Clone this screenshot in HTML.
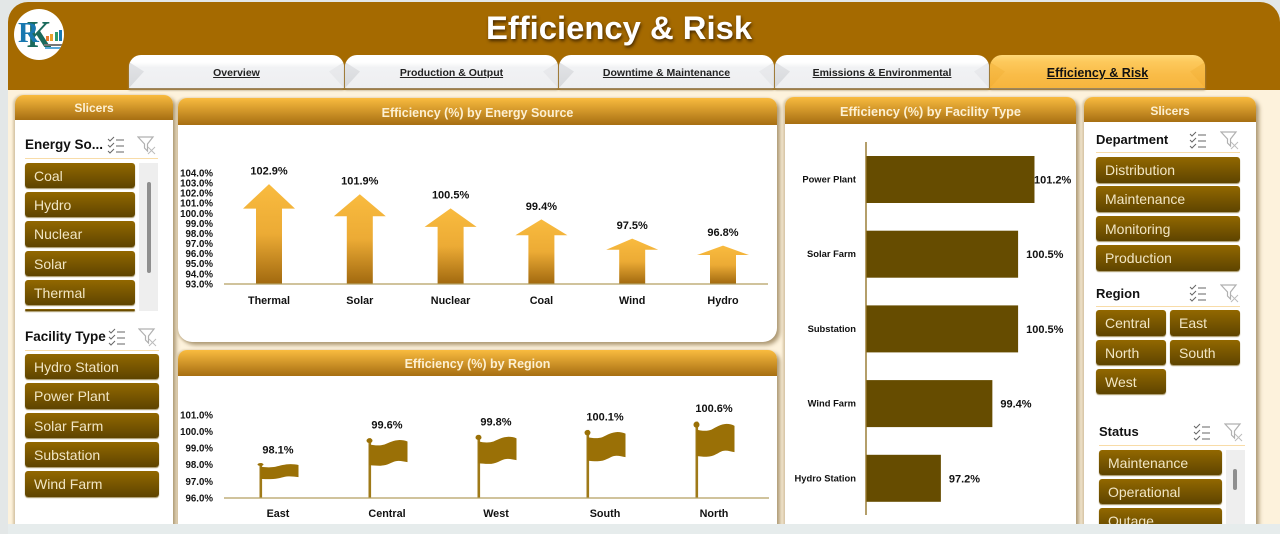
<!DOCTYPE html>
<html lang="en">
<head>
<meta charset="utf-8">
<title>Efficiency &amp; Risk</title>
<style>
html,body{margin:0;padding:0;background:#e3e7e7;}
#root{position:relative;width:1280px;height:534px;overflow:hidden;background:#e3e7e7;font-family:"Liberation Sans",sans-serif;}
#root div,#root span.abs{position:absolute;box-sizing:border-box;}
.panel{background:#fff;box-shadow:3px 3px 4px #ac9873,-2px 0 2px #d8c8a8;}
.phead{left:0;top:0;width:100%;background:linear-gradient(#f9bb3f,#a66e12);color:#fdf0d2;font-weight:bold;text-align:center;}
.tab{top:55px;height:33px;border-radius:12px 12px 0 0;background:linear-gradient(#fff 0,#fff 22%,#f1f2f4 38%,#eeeff1 100%);box-shadow:0 2px 2px #9c8a68;text-align:center;font-weight:bold;font-size:10.5px;line-height:37px;color:#222;overflow:hidden;}
.tab u{position:relative;}
.bl,.br{top:0;width:15px;height:33px;}
.bl{left:0;clip-path:polygon(0 7px,100% 50%,0 100%);background:linear-gradient(#e6e7ea,#d6d8db);}
.br{right:0;clip-path:polygon(100% 7px,0 50%,100% 100%);background:linear-gradient(#ebecee,#e5e6e9);}
.tab.on{background:linear-gradient(#ffd877 0,#fdc95c 20%,#f9bc48 60%,#f7b53d 100%);font-size:12.5px;color:#111;}
.tab.on .bl,.tab.on .br{background:linear-gradient(#f9c250,#f3af36);}
.btn{background:linear-gradient(#926800,#5e4400);border-radius:3px;color:#f2e6c4;font-size:14px;padding-left:9px;box-shadow:0 1px 1px #a39160;white-space:nowrap;overflow:hidden;}
.stitle{font-weight:bold;font-size:13.5px;color:#111;white-space:nowrap;}
.sline{height:1px;background:#f8dca8;}
.track{background:#eeeeee;}
.thumb{background:#8f8f8f;border-radius:2px;}
.ic{width:20px;height:20px;}
svg.chart{position:absolute;left:0;top:0;pointer-events:none;}
svg text{font-family:"Liberation Sans",sans-serif;}
</style>
</head>
<body>
<div id="root">
<svg width="0" height="0" style="position:absolute">
  <defs>
    <symbol id="sym-multi" viewBox="0 0 20 20">
      <path d="M2 4l2 2 4-4M2 10l2 2 4-4M2 16l2 2 4-4" fill="none" stroke="#666" stroke-width="1"/>
      <path d="M10 5h8M10 11h8M10 17h8" stroke="#666" stroke-width="1.1"/>
    </symbol>
    <symbol id="sym-filter" viewBox="0 0 20 20">
      <path d="M1 2h15l-5.5 7v7l-3-3V9z" fill="none" stroke="#b0b0b0" stroke-width="1.2"/>
      <path d="M11 12l7 7M18 12l-7 7" stroke="#bcbcbc" stroke-width="1"/>
    </symbol>
  </defs>
</svg>

<div style="left:8px;top:60px;width:1272px;height:474px;background:#fdf2dc;"></div>
<div style="left:8px;top:2px;width:1272px;height:88px;background:#a56a00;border-radius:20px 20px 0 0;"></div>
<div style="left:319px;top:7px;width:600px;text-align:center;font-size:32.8px;line-height:42px;font-weight:bold;color:#fff;text-shadow:1px 2px 3px rgba(50,28,0,.85);">Efficiency &amp; Risk</div>

<div style="left:14px;top:9px;width:50px;height:51px;border-radius:50%;background:#fff;overflow:hidden;">
  <span class="abs" style="left:13px;top:7px;font:bold 38px/38px 'Liberation Serif',serif;color:#1a6a5c;transform:scaleX(.82);transform-origin:left top;">K</span>
  <span class="abs" style="left:4px;top:10px;font:bold 29px/29px 'Liberation Serif',serif;color:#1878b0;">R</span>
  <span class="abs" style="left:32px;top:27px;width:3px;height:5px;background:#e9782d;"></span>
  <span class="abs" style="left:36px;top:25px;width:3px;height:7px;background:#e9a02d;"></span>
  <span class="abs" style="left:41px;top:23px;width:3px;height:9px;background:#2d9a6a;"></span>
  <span class="abs" style="left:45px;top:21px;width:3px;height:11px;background:#1878b0;"></span>
  <span class="abs" style="left:30px;top:35px;width:18px;height:2px;background:#777;"></span>
  <span class="abs" style="left:31px;top:38px;width:16px;height:2px;background:#58a8d8;"></span>
</div>

<div class="tab" style="left:129px;width:215px;"><div class="bl"></div><div class="br"></div><u>Overview</u></div>
<div class="tab" style="left:345px;width:213px;"><div class="bl"></div><div class="br"></div><u>Production &amp; Output</u></div>
<div class="tab" style="left:559px;width:215px;"><div class="bl"></div><div class="br"></div><u>Downtime &amp; Maintenance</u></div>
<div class="tab" style="left:775px;width:214px;"><div class="bl"></div><div class="br"></div><u>Emissions &amp; Environmental</u></div>
<div class="tab on" style="left:990px;width:215px;"><div class="bl"></div><div class="br"></div><u>Efficiency &amp; Risk</u></div>

<!-- Left slicers -->
<div class="panel" style="left:15px;top:95px;width:158px;height:440px;border-radius:9px 9px 0 0;">
  <div class="phead" style="height:25px;line-height:26px;font-size:12px;border-radius:9px 9px 0 0;">Slicers</div>
</div>
<div class="stitle" style="left:25px;top:137px;">Energy So...</div>
<svg class="ic" style="position:absolute;left:106px;top:135px"><use href="#sym-multi"/></svg>
<svg class="ic" style="position:absolute;left:137px;top:135px"><use href="#sym-filter"/></svg>
<div class="sline" style="left:25px;top:158px;width:133px;"></div>
<div class="btn" style="left:25px;top:163px;width:110px;height:25px;line-height:26px;">Coal</div>
<div class="btn" style="left:25px;top:192px;width:110px;height:25px;line-height:26px;">Hydro</div>
<div class="btn" style="left:25px;top:221px;width:110px;height:26px;line-height:27px;">Nuclear</div>
<div class="btn" style="left:25px;top:251px;width:110px;height:25px;line-height:26px;">Solar</div>
<div class="btn" style="left:25px;top:280px;width:110px;height:25px;line-height:26px;">Thermal</div>
<div class="btn" style="left:25px;top:309px;width:110px;height:2px;"></div>
<div class="track" style="left:139px;top:163px;width:19px;height:148px;"></div>
<div class="thumb" style="left:147px;top:182px;width:4px;height:91px;"></div>

<div class="stitle" style="left:25px;top:329px;">Facility Type</div>
<svg class="ic" style="position:absolute;left:107px;top:327px"><use href="#sym-multi"/></svg>
<svg class="ic" style="position:absolute;left:138px;top:327px"><use href="#sym-filter"/></svg>
<div class="sline" style="left:25px;top:350px;width:134px;"></div>
<div class="btn" style="left:25px;top:354px;width:134px;height:25px;line-height:26px;">Hydro Station</div>
<div class="btn" style="left:25px;top:383px;width:134px;height:26px;line-height:27px;">Power Plant</div>
<div class="btn" style="left:25px;top:413px;width:134px;height:25px;line-height:26px;">Solar Farm</div>
<div class="btn" style="left:25px;top:442px;width:134px;height:25px;line-height:26px;">Substation</div>
<div class="btn" style="left:25px;top:471px;width:134px;height:26px;line-height:27px;">Wind Farm</div>

<!-- Chart panels -->
<div class="panel" style="left:178px;top:98px;width:599px;height:244px;border-radius:9px 9px 14px 14px;">
  <div class="phead" style="height:27px;line-height:30px;font-size:12.5px;border-radius:9px 9px 0 0;">Efficiency (%) by Energy Source</div>
</div>
<div class="panel" style="left:178px;top:350px;width:599px;height:190px;border-radius:9px 9px 0 0;">
  <div class="phead" style="height:26px;line-height:29px;font-size:12.5px;border-radius:9px 9px 0 0;">Efficiency (%) by Region</div>
</div>
<div class="panel" style="left:785px;top:97px;width:291px;height:440px;border-radius:9px 9px 0 0;">
  <div class="phead" style="height:27px;line-height:31px;font-size:12.7px;border-radius:9px 9px 0 0;">Efficiency (%) by Facility Type</div>
</div>

<!-- Right slicers -->
<div class="panel" style="left:1084px;top:97px;width:172px;height:440px;border-radius:9px 9px 0 0;">
  <div class="phead" style="height:25px;line-height:28px;font-size:12px;border-radius:9px 9px 0 0;">Slicers</div>
</div>
<div class="stitle" style="left:1096px;top:132px;font-size:13px;">Department</div>
<svg class="ic" style="position:absolute;left:1188px;top:130px"><use href="#sym-multi"/></svg>
<svg class="ic" style="position:absolute;left:1220px;top:130px"><use href="#sym-filter"/></svg>
<div class="sline" style="left:1096px;top:152px;width:144px;"></div>
<div class="btn" style="left:1096px;top:157px;width:144px;height:26px;line-height:27px;">Distribution</div>
<div class="btn" style="left:1096px;top:186px;width:144px;height:26px;line-height:27px;">Maintenance</div>
<div class="btn" style="left:1096px;top:216px;width:144px;height:25px;line-height:26px;">Monitoring</div>
<div class="btn" style="left:1096px;top:245px;width:144px;height:26px;line-height:27px;">Production</div>

<div class="stitle" style="left:1096px;top:286px;font-size:13px;">Region</div>
<svg class="ic" style="position:absolute;left:1188px;top:283px"><use href="#sym-multi"/></svg>
<svg class="ic" style="position:absolute;left:1220px;top:283px"><use href="#sym-filter"/></svg>
<div class="sline" style="left:1096px;top:306px;width:144px;"></div>
<div class="btn" style="left:1096px;top:310px;width:70px;height:26px;line-height:27px;">Central</div>
<div class="btn" style="left:1170px;top:310px;width:70px;height:26px;line-height:27px;">East</div>
<div class="btn" style="left:1096px;top:340px;width:70px;height:25px;line-height:26px;">North</div>
<div class="btn" style="left:1170px;top:340px;width:70px;height:25px;line-height:26px;">South</div>
<div class="btn" style="left:1096px;top:369px;width:70px;height:25px;line-height:26px;">West</div>

<div class="stitle" style="left:1099px;top:424px;font-size:13px;">Status</div>
<svg class="ic" style="position:absolute;left:1192px;top:422px"><use href="#sym-multi"/></svg>
<svg class="ic" style="position:absolute;left:1224px;top:422px"><use href="#sym-filter"/></svg>
<div class="sline" style="left:1099px;top:445px;width:146px;"></div>
<div class="btn" style="left:1099px;top:450px;width:123px;height:25px;line-height:26px;">Maintenance</div>
<div class="btn" style="left:1099px;top:479px;width:123px;height:25px;line-height:26px;">Operational</div>
<div class="btn" style="left:1099px;top:508px;width:123px;height:25px;line-height:26px;">Outage</div>
<div class="track" style="left:1226px;top:450px;width:19px;height:80px;"></div>
<div class="thumb" style="left:1233px;top:469px;width:4px;height:21px;"></div>

<svg class="chart" id="charts" width="1280" height="534" viewBox="0 0 1280 534">
  <defs>
    <linearGradient id="arrowGrad" x1="0" y1="0" x2="0" y2="1">
      <stop offset="0" stop-color="#f9bb3f"/>
      <stop offset="0.5" stop-color="#ecab35"/>
      <stop offset="1" stop-color="#a1690f"/>
    </linearGradient>
  </defs>
</svg>

<div style="left:0;top:524px;width:1280px;height:10px;background:#e6ecec;"></div>
<div style="left:0;top:0;width:8px;height:534px;background:#e3e7e7;"></div>
</div>

<script>
var energyCategories = ["Thermal", "Solar", "Nuclear", "Coal", "Wind", "Hydro"];
var energyValues = [102.9, 101.9, 100.5, 99.4, 97.5, 96.8];
var energyTicks = [104, 103, 102, 101, 100, 99, 98, 97, 96, 95, 94, 93];

var regionCategories = ["East", "Central", "West", "South", "North"];
var regionValues = [98.1, 99.6, 99.8, 100.1, 100.6];
var regionTicks = [101, 100, 99, 98, 97, 96];

var facilityCategories = ["Power Plant", "Solar Farm", "Substation", "Wind Farm", "Hydro Station"];
var facilityValues = [101.2, 100.5, 100.5, 99.4, 97.2];

var NS = "http://www.w3.org/2000/svg";
var host = document.getElementById("charts");

function mk(tag, attrs, text) {
  var el = document.createElementNS(NS, tag);
  for (var k in attrs) el.setAttribute(k, attrs[k]);
  if (text !== undefined) el.textContent = text;
  host.appendChild(el);
  return el;
}
function pct(v) { return v.toFixed(1) + "%"; }

/* axis functions */
function energyY(v) { return 284 - (v - 93) * 10.09; }
function energyX(i) { return 269 + i * 90.8; }
function regionY(v) { return 498 - (v - 96) * 16.6; }
function regionX(i) { return 278 + i * 109; }
function facilityX(v) { return 866 + (v - 94) * 23.4; }
function facilityY(i) { return 179.5 + i * 74.7; }

/* energy chart */
energyTicks.forEach(function (t) {
  var el = mk("text", {x: 213, y: energyY(t) + 3.4, "text-anchor": "end", "font-size": 9.7, "font-weight": "bold", fill: "#111"}, pct(t));
  
  
});
energyValues.forEach(function (v, i) {
  var cx = energyX(i), top = energyY(v), base = energyY(93);
  var head = (base - top) * 0.245;
  var d = "M" + cx + " " + top + "L" + (cx + 26) + " " + (top + head) + "H" + (cx + 13) + "V" + base + "H" + (cx - 13) + "V" + (top + head) + "H" + (cx - 26) + "Z";
  var a = mk("path", {d: d, fill: "url(#arrowGrad)"});
  
  
  var l = mk("text", {x: cx, y: top - 9.6, "text-anchor": "middle", "font-size": 11, "font-weight": "bold", fill: "#111"}, pct(v));
  
  
  var c = mk("text", {x: cx, y: base + 20, "text-anchor": "middle", "font-size": 10.8, "font-weight": "bold", fill: "#111"}, energyCategories[i]);
  
  
});
var energyAxis = mk("line", {x1: 224, x2: 768, y1: energyY(93), y2: energyY(93), stroke: "#b39f62", "stroke-width": 1.2});



/* region chart */
regionTicks.forEach(function (t) {
  var el = mk("text", {x: 213, y: regionY(t) + 3.4, "text-anchor": "end", "font-size": 9.7, "font-weight": "bold", fill: "#111"}, pct(t));
  
  
});
regionValues.forEach(function (v, i) {
  var cx = regionX(i), top = regionY(v), base = regionY(96), h = base - top;
  var px = cx - 17.5, ex = px + 38;
  var pole = mk("rect", {x: px - 1, y: top, width: 2.6, height: h, fill: "#9f7a18"});
  
  
  var ry = Math.max(1.2, h * 0.04);
  var ball = mk("ellipse", {cx: px, cy: top + ry, rx: 3, ry: ry, fill: "#9a7006"});
  
  
  var d = "M" + px + " " + (top + h * 0.105) +
    "C" + (px + 6) + " " + (top + h * 0.125) + " " + (px + 11) + " " + (top + h * 0.125) + " " + (px + 15) + " " + (top + h * 0.105) +
    "C" + (px + 20) + " " + (top + h * 0.07) + " " + (px + 24) + " " + (top + h * 0.035) + " " + (px + 30) + " " + (top + h * 0.03) +
    "C" + (px + 33) + " " + (top + h * 0.03) + " " + (px + 36) + " " + (top + h * 0.04) + " " + ex + " " + (top + h * 0.055) +
    "V" + (top + h * 0.40) +
    "C" + (px + 34) + " " + (top + h * 0.39) + " " + (px + 30) + " " + (top + h * 0.37) + " " + (px + 26) + " " + (top + h * 0.385) +
    "C" + (px + 22) + " " + (top + h * 0.40) + " " + (px + 18) + " " + (top + h * 0.46) + " " + (px + 10) + " " + (top + h * 0.46) +
    "C" + (px + 6) + " " + (top + h * 0.46) + " " + (px + 3) + " " + (top + h * 0.455) + " " + px + " " + (top + h * 0.45) + "Z";
  var f = mk("path", {d: d, fill: "#9a7006"});
  
  
  var l = mk("text", {x: cx, y: top - 9.5, "text-anchor": "middle", "font-size": 11, "font-weight": "bold", fill: "#111"}, pct(v));
  
  
  var c = mk("text", {x: cx, y: base + 19, "text-anchor": "middle", "font-size": 10.8, "font-weight": "bold", fill: "#111"}, regionCategories[i]);
  
  
});
var regionAxis = mk("line", {x1: 224, x2: 769, y1: regionY(96), y2: regionY(96), stroke: "#b39f62", "stroke-width": 1.2});



/* facility chart */
facilityValues.forEach(function (v, i) {
  var cy = facilityY(i), x0 = facilityX(94), x1 = facilityX(v);
  var b = mk("rect", {x: x0, y: cy - 23.5, width: x1 - x0, height: 47, fill: "#664c00"});
  
  
  var l = mk("text", {x: Math.min(x1 + 8, 1034), y: cy + 4, "font-size": 11, "font-weight": "bold", fill: "#111"}, pct(v));
  
  
  var c = mk("text", {x: 856, y: cy + 3, "text-anchor": "end", "font-size": 9.4, "font-weight": "bold", fill: "#111"}, facilityCategories[i]);
  
  
});
var facilityAxis = mk("line", {x1: facilityX(94), x2: facilityX(94), y1: 142, y2: 515, stroke: "#94762a", "stroke-width": 1.4});


</script>
</body>
</html>
